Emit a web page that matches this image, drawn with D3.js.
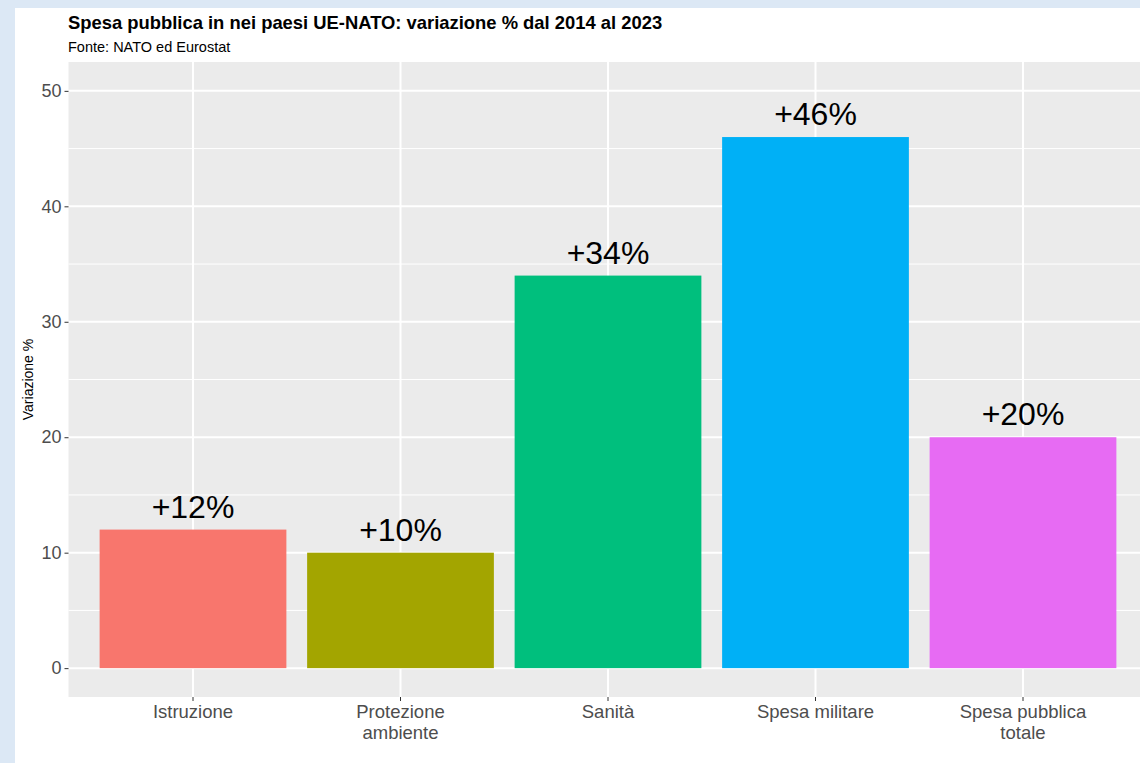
<!DOCTYPE html>
<html>
<head>
    <title>Spesa pubblica UE-NATO</title>
    <style>
        body { margin: 0; background-color: #dce8f5; }
        svg { display: block; }
        text { font-family: "Liberation Sans", Arial, sans-serif; }
    </style>
    <script src="https://d3js.org/d3.v7.min.js"></script>
</head>
<body>
    <svg id="mySvg" width="1140" height="763"></svg>
    <script>
        // dati
        var categories = ["Istruzione", "Protezione ambiente", "Sanità", "Spesa militare", "Spesa pubblica totale"];
        var xLabels = [["Istruzione"], ["Protezione", "ambiente"], ["Sanità"], ["Spesa militare"], ["Spesa pubblica", "totale"]];
        var values = [12, 10, 34, 46, 20];
        var barLabels = ["+12%", "+10%", "+34%", "+46%", "+20%"];
        var colors = ["#F8766D", "#A3A500", "#00BF7D", "#00B0F6", "#E76BF3"];
        var yTicks = [0, 10, 20, 30, 40, 50];
        var yMinor = [5, 15, 25, 35, 45];

        var svg = d3.select("#mySvg");

        // sfondo bianco
        svg.append("rect")
            .attr("x", 15).attr("y", 8)
            .attr("width", 1125).attr("height", 755)
            .attr("fill", "white");

        var panel = { left: 68.5, right: 1147.5, top: 62, bottom: 697 };

        var x = d3.scaleBand()
            .domain(categories)
            .range([panel.left, panel.right])
            .paddingInner(0.1)
            .paddingOuter(0.15);

        var y = d3.scaleLinear()
            .domain([-2.5, 52.5])
            .range([panel.bottom, panel.top]);

        svg.append("rect")
            .attr("x", panel.left).attr("y", panel.top)
            .attr("width", panel.right - panel.left)
            .attr("height", panel.bottom - panel.top)
            .attr("fill", "#EBEBEB");

        // griglia
        var grid = svg.append("g");
        grid.selectAll(".minor").data(yMinor).enter().append("line")
            .attr("x1", panel.left).attr("x2", panel.right)
            .attr("y1", d => y(d)).attr("y2", d => y(d))
            .attr("stroke", "white").attr("stroke-width", 1);
        grid.selectAll(".major").data(yTicks).enter().append("line")
            .attr("x1", panel.left).attr("x2", panel.right)
            .attr("y1", d => y(d)).attr("y2", d => y(d))
            .attr("stroke", "white").attr("stroke-width", 2);
        grid.selectAll(".vmajor").data(categories).enter().append("line")
            .attr("x1", d => x(d) + x.bandwidth() / 2).attr("x2", d => x(d) + x.bandwidth() / 2)
            .attr("y1", panel.top).attr("y2", panel.bottom)
            .attr("stroke", "white").attr("stroke-width", 2);

        // barre
        svg.append("g").selectAll("rect").data(values).enter().append("rect")
            .attr("x", (d, i) => x(categories[i]))
            .attr("y", d => y(d))
            .attr("width", x.bandwidth())
            .attr("height", d => y(0) - y(d))
            .attr("fill", (d, i) => colors[i]);

        // etichette valori
        svg.append("g").selectAll("text").data(values).enter().append("text")
            .attr("x", (d, i) => x(categories[i]) + x.bandwidth() / 2)
            .attr("y", d => y(d) - 12)
            .attr("text-anchor", "middle")
            .style("font-size", "32px")
            .attr("fill", "black")
            .text((d, i) => barLabels[i]);

        // asse y
        var yAxis = svg.append("g")
            .attr("transform", "translate(" + panel.left + ",0)")
            .call(d3.axisLeft(y).tickValues(yTicks).tickSize(4).tickPadding(3));
        yAxis.select(".domain").remove();
        yAxis.selectAll(".tick line").attr("stroke", "#333333").attr("stroke-width", 1);
        yAxis.selectAll(".tick text")
            .attr("fill", "#4D4D4D")
            .style("font-size", "18px")
            .style("font-family", "Liberation Sans, Arial, sans-serif");

        // asse x
        var xAxis = svg.append("g")
            .attr("transform", "translate(0," + panel.bottom + ")")
            .call(d3.axisBottom(x).tickSize(4).tickFormat(""));
        xAxis.select(".domain").remove();
        xAxis.selectAll(".tick line").attr("stroke", "#333333").attr("stroke-width", 1);

        var xl = svg.append("g").selectAll("text").data(categories).enter().append("text")
            .attr("x", d => x(d) + x.bandwidth() / 2)
            .attr("y", 718)
            .attr("text-anchor", "middle")
            .attr("fill", "#4D4D4D")
            .style("font-size", "18.5px");
        xl.each(function(d, i) {
            var t = d3.select(this);
            xLabels[i].forEach(function(line, j) {
                t.append("tspan")
                    .attr("x", x(d) + x.bandwidth() / 2)
                    .attr("dy", j === 0 ? 0 : 21)
                    .text(line);
            });
        });

        // titolo asse y
        svg.append("text")
            .attr("transform", "translate(33," + ((panel.top + panel.bottom) / 2) + ") rotate(-90)")
            .attr("text-anchor", "middle")
            .style("font-size", "14px")
            .attr("fill", "black")
            .text("Variazione %");

        // titolo e sottotitolo
        svg.append("text")
            .attr("x", 68).attr("y", 29)
            .style("font-size", "18.4px")
            .style("font-weight", "bold")
            .attr("fill", "black")
            .text("Spesa pubblica in nei paesi UE-NATO: variazione % dal 2014 al 2023");
        svg.append("text")
            .attr("x", 68).attr("y", 52)
            .style("font-size", "14.5px")
            .attr("fill", "black")
            .text("Fonte: NATO ed Eurostat");
    </script>
</body>
</html>
